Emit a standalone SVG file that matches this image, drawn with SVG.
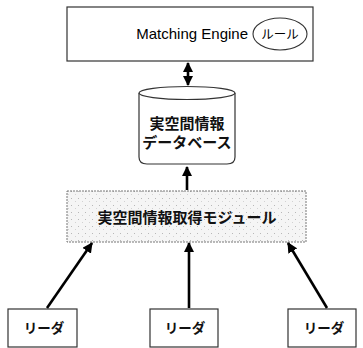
<svg xmlns="http://www.w3.org/2000/svg" width="363" height="348" viewBox="0 0 363 348">
<style>
.box{fill:#fff;stroke:#333;stroke-width:1.2}
.t{font-family:"Liberation Sans","Noto Sans CJK JP",sans-serif;fill:#000}
.jp{font-family:"Noto Sans CJK JP","Liberation Sans",sans-serif;font-weight:bold;fill:#111;text-anchor:middle}
.c{fill:none;stroke:#000;stroke-width:2.6}
</style>
<defs>
<pattern id="stip" width="7" height="7" patternUnits="userSpaceOnUse">
<rect width="7" height="7" fill="#f5f5f5"/>
<rect x="1" y="2" width="1" height="1" fill="#b8b8b8"/>
<rect x="5" y="5" width="1" height="1" fill="#d2d2d2"/>
</pattern>
<marker id="ah" viewBox="0 0 10 10" refX="9" refY="5" markerWidth="4" markerHeight="4" orient="auto-start-reverse" markerUnits="strokeWidth">
<path d="M0,0 L10,5 L0,10 z" fill="#000"/>
</marker>
</defs>
<g id="engine">
<rect class="box" x="67" y="7" width="246" height="54"/>
<text class="t" x="248" y="39" font-size="15" text-anchor="end">Matching Engine</text>
<ellipse cx="280" cy="34" rx="27" ry="16" fill="#fff" stroke="#333" stroke-width="1.1"/>
<text class="t" x="280" y="39" font-size="12.5" text-anchor="middle">ルール</text>
</g>
<g id="database">
<path d="M139,93 L139,157 Q139,164 147,164 L227,164 Q235,164 235,157 L235,93" fill="#fff" stroke="#333" stroke-width="1.2"/>
<ellipse cx="187" cy="93" rx="48" ry="6.5" fill="#fff" stroke="#333" stroke-width="1.2"/>
<text class="jp" x="187" y="129" font-size="15">実空間情報</text>
<text class="jp" x="187" y="148" font-size="15" font-weight="normal">データベース</text>
</g>
<g id="module">
<rect x="67" y="191" width="239" height="51" fill="url(#stip)" stroke="#777" stroke-width="1" stroke-dasharray="2,1"/>
<text class="jp" x="187" y="223" font-size="15">実空間情報取得モジュール</text>
</g>
<g id="reader1">
<rect class="box" x="8" y="309" width="69" height="38"/>
<text class="jp" x="44" y="333" font-size="13.5">リーダ</text>
</g>
<g id="reader2">
<rect class="box" x="150" y="309" width="68" height="38"/>
<text class="jp" x="185" y="333" font-size="13.5">リーダ</text>
</g>
<g id="reader3">
<rect class="box" x="288" y="309" width="68" height="38"/>
<text class="jp" x="324" y="333" font-size="13.5">リーダ</text>
</g>
<g id="connectors">
<line class="c" x1="188" y1="63" x2="188" y2="85" marker-start="url(#ah)" marker-end="url(#ah)"/>
<line class="c" x1="187" y1="190" x2="187" y2="167" marker-end="url(#ah)"/>
<line class="c" x1="47" y1="308" x2="92" y2="243" marker-end="url(#ah)"/>
<line class="c" x1="189" y1="308" x2="189" y2="243" marker-end="url(#ah)"/>
<line class="c" x1="327" y1="308" x2="288" y2="243" marker-end="url(#ah)"/>
</g>
</svg>
